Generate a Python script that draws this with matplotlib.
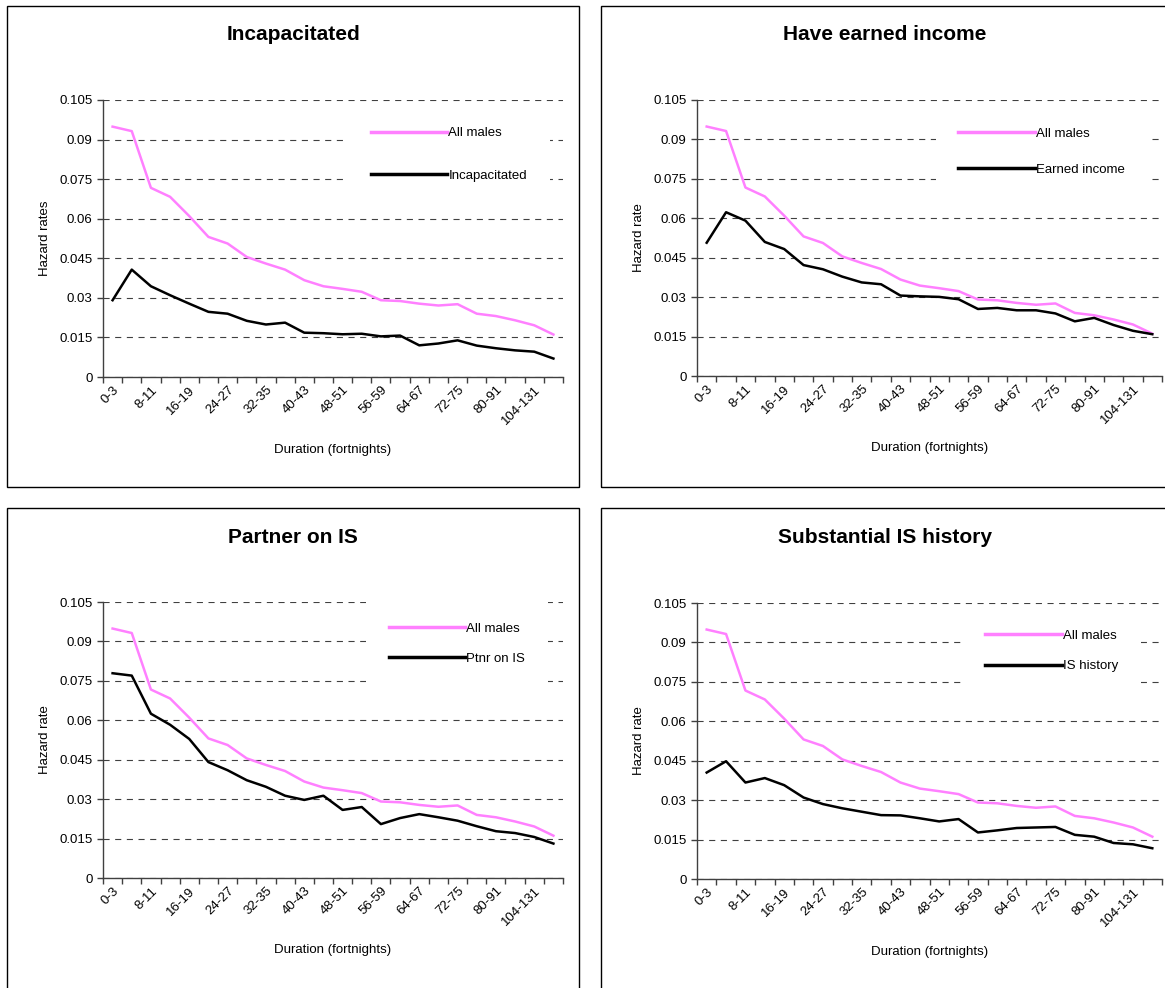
import matplotlib
matplotlib.use('Agg')
import matplotlib.pyplot as plt
from matplotlib.patches import Rectangle


durations = ['0-3', '4-7', '8-11', '12-15', '16-19', '20-23', '24-27', '28-31',
             '32-35', '36-39', '40-43', '44-47', '48-51', '52-55', '56-59', '60-63',
             '64-67', '68-71', '72-75', '76-79', '80-91', '92-103', '104-131', '132+']

all_males = [0.0949, 0.0932, 0.0717, 0.0683, 0.0610, 0.0531, 0.0506, 0.0455,
             0.0430, 0.0407, 0.0367, 0.0344, 0.0334, 0.0323, 0.0291, 0.0288,
             0.0278, 0.0271, 0.0276, 0.0240, 0.0231, 0.0215, 0.0196, 0.0161]

incapacitated = [0.0291, 0.0407, 0.0344, 0.0310, 0.0278, 0.0247, 0.0240, 0.0213,
                 0.0199, 0.0206, 0.0168, 0.0166, 0.0162, 0.0164, 0.0154, 0.0157,
                 0.0120, 0.0127, 0.0139, 0.0119, 0.0109, 0.0101, 0.0096, 0.0070]

earned_income = [0.0507, 0.0623, 0.0591, 0.0510, 0.0483, 0.0422, 0.0406, 0.0378,
                 0.0356, 0.0349, 0.0306, 0.0303, 0.0301, 0.0292, 0.0255, 0.0259,
                 0.0250, 0.0250, 0.0238, 0.0208, 0.0221, 0.0194, 0.0172, 0.0159]

ptnr_on_is = [0.0779, 0.0770, 0.0625, 0.0583, 0.0529, 0.0441, 0.0410, 0.0372,
              0.0347, 0.0313, 0.0297, 0.0313, 0.0259, 0.0270, 0.0205, 0.0228,
              0.0243, 0.0231, 0.0218, 0.0197, 0.0178, 0.0171, 0.0156, 0.0131]

is_history = [0.0405, 0.0448, 0.0367, 0.0384, 0.0357, 0.0310, 0.0285, 0.0269,
              0.0256, 0.0243, 0.0242, 0.0231, 0.0219, 0.0228, 0.0177, 0.0185,
              0.0194, 0.0196, 0.0198, 0.0168, 0.0161, 0.0137, 0.0132, 0.0117]

y_ticks = [0, 0.015, 0.03, 0.045, 0.06, 0.075, 0.09, 0.105]
y_tick_labels = ['0', '0.015', '0.03', '0.045', '0.06', '0.075', '0.09', '0.105']

W, H = 1165, 988
PINK = '#ff80ff'
FS = 9.5


def fig_rect(left, top, right, bottom):
    # pixel box -> figure fraction
    return [left / W, 1 - bottom / H, (right - left) / W, (bottom - top) / H]


def panel(fig, box, axes_px, title, title_xy, series, label, ylabel, ylabel_x,
          xlabel_y, legend_xy, legend_spacing):
    fig.patches.append(Rectangle((box[0] / W, 1 - box[3] / H),
                                 (box[2] - box[0]) / W, (box[3] - box[1]) / H,
                                 transform=fig.transFigure, fill=False,
                                 edgecolor='black', linewidth=1.0))
    ax = fig.add_axes(fig_rect(*axes_px))
    x = list(range(len(durations)))
    ax.plot(x, all_males, color=PINK, linewidth=1.8, label='All males')
    ax.plot(x, series, color='black', linewidth=1.8, label=label)

    ax.set_xlim(-0.5, len(durations) - 0.5)
    ax.set_ylim(0, 0.105)
    ax.set_yticks(y_ticks)
    ax.set_yticklabels(y_tick_labels)
    ax.set_xticks([i - 0.5 for i in range(len(durations) + 1)])
    ax.set_xticklabels([])
    ax.set_xticks(x[::2], minor=True)
    ax.set_xticklabels(durations[::2], minor=True, rotation=45, ha='right',
                       rotation_mode='anchor')
    ax.tick_params(axis='x', which='minor', length=0, pad=5, labelsize=FS)
    ax.tick_params(axis='x', which='major', length=4, width=1, color='#404040')
    ax.tick_params(axis='y', length=4, width=1, color='#404040', labelsize=FS)

    ax.grid(True, axis='y', color='#404040', linestyle=(0, (5.5, 5)), linewidth=0.8)
    ax.set_axisbelow(True)
    for s in ['top', 'right']:
        ax.spines[s].set_visible(False)
    for s in ['left', 'bottom']:
        ax.spines[s].set_color('#404040')
        ax.spines[s].set_linewidth(1.0)

    leg = ax.legend(loc='center left', bbox_to_anchor=legend_xy, fontsize=FS,
                    frameon=True, fancybox=False, framealpha=1, facecolor='white',
                    edgecolor='none', handlelength=5.8, handletextpad=0.1,
                    labelspacing=legend_spacing, borderpad=1.7, borderaxespad=0)
    for line in leg.get_lines():
        line.set_linewidth(2.5)

    fig.text(title_xy[0] / W, 1 - title_xy[1] / H, title, ha='center', va='center',
             fontsize=15, fontweight='bold')
    mid_x = (axes_px[0] + axes_px[2]) / 2
    fig.text(mid_x / W, 1 - xlabel_y / H, 'Duration (fortnights)', ha='center',
             va='center', fontsize=FS)
    mid_y = (axes_px[1] + axes_px[3]) / 2
    fig.text(ylabel_x / W, 1 - mid_y / H, ylabel, ha='center', va='center',
             rotation=90, fontsize=FS)


def main():
    plt.rcParams['font.family'] = ['Liberation Sans', 'DejaVu Sans']
    fig = plt.figure(figsize=(W / 100, H / 100), dpi=100)

    panel(fig, (7, 6, 579, 487), (103, 100, 563, 377), 'Incapacitated', (293, 35),
          incapacitated, 'Incapacitated', 'Hazard rates', 45, 450,
          (0.533, 0.803), 2.3)
    panel(fig, (601, 6, 1175, 487), (697, 100, 1162, 376), 'Have earned income',
          (885, 35), earned_income, 'Earned income', 'Hazard rate', 639, 448,
          (0.514, 0.812), 1.8)
    panel(fig, (7, 508, 579, 1000), (103, 602, 563, 878), 'Partner on IS', (293, 537),
          ptnr_on_is, 'Ptnr on IS', 'Hazard rate', 45, 950,
          (0.572, 0.848), 1.35)
    panel(fig, (601, 508, 1175, 1000), (697, 603, 1162, 879), 'Substantial IS history',
          (885, 537), is_history, 'IS history', 'Hazard rate', 639, 952,
          (0.572, 0.826), 1.35)

    fig.savefig('out.png', dpi=100)


if __name__ == '__main__':
    main()
